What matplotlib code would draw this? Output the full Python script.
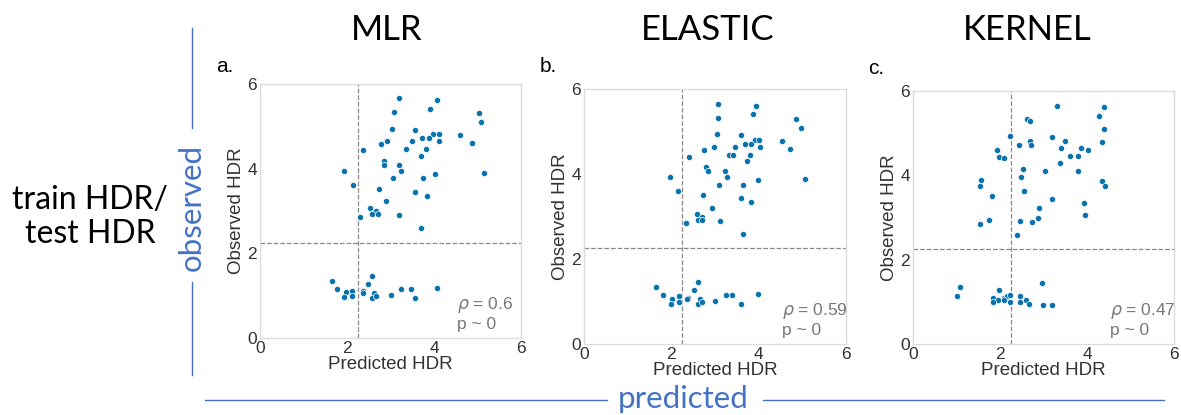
import matplotlib
matplotlib.use("Agg")
import matplotlib.pyplot as plt
from matplotlib.lines import Line2D

# ── 데이터 ───────────────────────────────────────────────────────
pred_mlr = [3.19, 4.06, 3.07, 3.91, 5.04, 5.07, 3.03, 3.56, 3.97, 4.11, 4.60, 3.73,
            3.89, 3.49, 4.11, 2.93, 2.79, 4.87, 3.82, 3.36, 2.36, 3.71, 2.85, 2.85,
            3.19, 3.23, 1.92, 4.03, 5.16, 3.05, 3.74, 2.14, 2.74, 3.56, 3.83, 2.90,
            2.54, 2.66, 2.58, 2.71, 3.20, 2.30, 3.69,
            1.66, 2.57, 1.76, 2.49, 1.98, 2.11, 2.36, 2.36, 2.63, 3.25, 3.46, 4.06,
            1.93, 2.11, 2.58, 2.67, 3.02, 3.57]
obs_mlr = [5.66, 5.62, 5.34, 5.42, 5.31, 5.10, 4.94, 4.92, 4.83, 4.82, 4.79, 4.72,
           4.72, 4.65, 4.65, 4.65, 4.58, 4.61, 4.47, 4.46, 4.43, 4.31, 4.17, 4.09,
           4.09, 3.95, 3.95, 3.87, 3.89, 3.77, 3.77, 3.62, 3.51, 3.45, 3.36, 3.23,
           3.06, 3.00, 2.94, 2.93, 2.91, 2.86, 2.59,
           1.35, 1.46, 1.16, 1.28, 1.08, 1.12, 1.10, 1.06, 1.07, 1.16, 1.16, 1.19,
           0.96, 0.99, 0.95, 1.00, 1.01, 0.95]

pred_elastic = [3.08, 3.94, 3.06, 3.88, 4.85, 4.97, 3.04, 3.59, 3.92, 4.00, 4.54, 3.68,
                3.83, 3.46, 4.03, 2.97, 2.75, 4.71, 3.80, 3.31, 3.41, 2.40, 3.74, 2.79,
                2.85, 3.22, 3.27, 1.96, 3.98, 5.05, 3.09, 3.65, 2.15, 2.72, 3.59, 3.83,
                2.93, 2.59, 2.70, 2.62, 2.71, 3.12, 2.33, 3.64,
                1.64, 2.62, 1.82, 2.52, 2.01, 2.17, 2.39, 2.37, 2.66, 3.26, 3.39, 3.98,
                1.99, 2.17, 2.62, 2.71, 3.01, 3.59]
obs_elastic = [5.65, 5.61, 5.31, 5.41, 5.30, 5.09, 4.93, 4.91, 4.81, 4.80, 4.77, 4.71,
               4.71, 4.63, 4.63, 4.63, 4.57, 4.60, 4.45, 4.45, 4.45, 4.41, 4.30, 4.16,
               4.08, 4.07, 3.94, 3.94, 3.86, 3.88, 3.75, 3.75, 3.61, 3.50, 3.44, 3.34,
               3.21, 3.05, 3.00, 2.92, 2.92, 2.89, 2.85, 2.58,
               1.34, 1.45, 1.15, 1.27, 1.07, 1.12, 1.09, 1.05, 1.05, 1.15, 1.15, 1.17,
               0.95, 0.99, 0.93, 0.99, 1.01, 0.94]

pred_kernel = [3.31, 4.38, 4.28, 2.62, 2.69, 4.39, 2.23, 3.19, 2.69, 3.49, 4.34, 2.43,
               2.72, 3.41, 3.86, 4.03, 1.92, 1.97, 2.09, 3.61, 3.79, 2.52, 3.39, 3.04,
               3.80, 2.49, 1.56, 4.35, 1.53, 4.41, 2.56, 1.81, 3.20, 3.92, 2.89, 3.95,
               2.88, 2.46, 2.73, 1.74, 1.55, 2.39,
               1.07, 1.01, 2.97, 1.97, 1.84, 1.95, 2.10, 2.16, 2.22, 2.10, 2.46, 2.59,
               1.84, 2.24, 2.45, 2.66, 2.98, 3.20]
obs_kernel = [5.65, 5.61, 5.41, 5.33, 5.30, 5.10, 4.94, 4.92, 4.81, 4.81, 4.78, 4.71,
              4.71, 4.65, 4.64, 4.60, 4.59, 4.44, 4.42, 4.45, 4.46, 4.16, 4.30, 4.10,
              4.10, 3.95, 3.88, 3.87, 3.75, 3.75, 3.62, 3.50, 3.44, 3.35, 3.22, 3.05,
              3.00, 2.92, 2.89, 2.93, 2.85, 2.58,
              1.34, 1.15, 1.45, 1.27, 1.10, 1.05, 1.10, 1.14, 1.17, 1.05, 1.14, 1.05,
              0.99, 0.99, 0.99, 0.95, 0.93, 0.93]

titles = ["MLR", "ELASTIC", "KERNEL"]
panel_tags = ["a.", "b.", "c."]
rho_values = ["0.6", "0.59", "0.47"]
p_values = ["0", "0", "0"]
threshold = 2.25
ticks = [0, 2, 4, 6]

# ── 스타일 ──────────────────────────────────────────────────────────────
DOT_COLOR = "#0a72ac"
OFFICE_BLUE = "#4472C4"
plt.rcParams["font.family"] = ["Liberation Sans", "DejaVu Sans"]
TITLE_FONT = ["Lato", "DejaVu Sans"]

fig = plt.figure(figsize=(11.81, 4.15), dpi=100)

# 축 위치 (픽셀 → figure 비율)
boxes = [
    (260, 84, 521, 338),
    (584, 89, 846, 344),
    (913, 91, 1174, 344),
]
W, H = 1181, 415
data = [(pred_mlr, obs_mlr), (pred_elastic, obs_elastic), (pred_kernel, obs_kernel)]
title_x = [387, 708, 1027]
tag_xy = [(225, 66), (548, 66), (876, 68)]

for i, (x0, y0, x1, y1) in enumerate(boxes):
    ax = fig.add_axes([x0 / W, 1 - y1 / H, (x1 - x0) / W, (y1 - y0) / H])
    px, oy = data[i]
    ax.scatter(px, oy, s=20, color=DOT_COLOR, edgecolor="white", linewidth=0.5, zorder=3)
    ax.axvline(threshold, color="#888888", ls="--", lw=0.9, zorder=1)
    ax.axhline(threshold, color="#888888", ls="--", lw=0.9, zorder=1)
    ax.set_xlim(0, 6)
    ax.set_ylim(0, 6)
    ax.set_xticks(ticks)
    ax.set_yticks(ticks)
    ax.tick_params(length=0, labelsize=12.5, labelcolor="#333333", pad=2)
    for sp in ax.spines.values():
        sp.set_color("#dddddd")
        sp.set_linewidth(1.0)
    ax.set_xlabel("Predicted HDR", fontsize=13.5, color="#333333", labelpad=0)
    ax.set_ylabel("Observed HDR", fontsize=13.5, color="#333333", labelpad=2)
    ax.text(0.755, 0.025, rf"$\rho$ = {rho_values[i]}" + "\n" + f"p ~ {p_values[i]}",
            transform=ax.transAxes, fontsize=12.5, color="#777777",
            ha="left", va="bottom", linespacing=1.1)

    fig.text(title_x[i] / W, 1 - 30 / H, titles[i], fontsize=25, family=TITLE_FONT,
             ha="center", va="center", color="black")
    fig.text(tag_xy[i][0] / W, 1 - tag_xy[i][1] / H, panel_tags[i], fontsize=15,
             ha="center", va="center", color="black")

# ── 왼쪽/아래 주석 ───────────────────────────────────────────────────────
fig.text(90 / W, 1 - 217 / H, "train HDR/\ntest HDR", fontsize=23, family=TITLE_FONT,
         ha="center", va="center", linespacing=1.2, color="black")
fig.text(192 / W, 1 - 207 / H, "observed", fontsize=22.5, family=TITLE_FONT,
         rotation=90, ha="center", va="center", color=OFFICE_BLUE)
fig.text(683 / W, 1 - 399 / H, "predicted", fontsize=22.5, family=TITLE_FONT,
         ha="center", va="center", color=OFFICE_BLUE)

for xs, ys in [([192, 192], [28, 128]), ([192, 192], [282, 375]),
               ([205, 607], [400, 400]), ([763, 1164], [400, 400])]:
    fig.add_artist(Line2D([x / W for x in xs], [1 - y / H for y in ys],
                          color=OFFICE_BLUE, lw=1.0))

fig.savefig("out.png", dpi=100)
